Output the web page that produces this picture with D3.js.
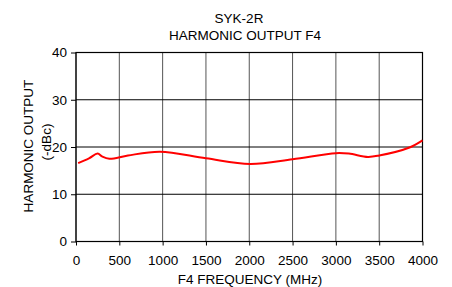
<!DOCTYPE html>
<html>
<head>
<meta charset="utf-8">
<script src="https://cdn.jsdelivr.net/npm/d3@7"></script>
<style>
body { margin: 0; background: #fff; }
text { font-family: "Liberation Sans", Arial, sans-serif; fill: #000; }
</style>
</head>
<body>
<script>
var freq = [25, 150, 250, 300, 385, 600, 970, 1500, 2010, 2500, 3000, 3150, 3370, 3500, 3850, 4000];
var output = [16.6, 17.6, 18.6, 18.0, 17.5, 18.2, 19.0, 17.6, 16.4, 17.4, 18.7, 18.6, 17.9, 18.2, 19.9, 21.4];
var xTicks = [0, 500, 1000, 1500, 2000, 2500, 3000, 3500, 4000];
var yTicks = [0, 10, 20, 30, 40];

var w = 452, h = 287;
var mLeft = 76, mRight = 422.5, mTop = 52.5, mBottom = 241.5;
var fs = "13.5px";

var svg = d3.select("body").append("svg")
  .attr("width", w)
  .attr("height", h);

var x = d3.scaleLinear().domain([0, 4000]).range([mLeft, mRight]);
var y = d3.scaleLinear().domain([0, 40]).range([mBottom, mTop]);

// vertical grid
svg.selectAll(".vgrid")
  .data(xTicks)
  .enter()
  .append("line")
  .attr("x1", function(d) { return x(d); })
  .attr("x2", function(d) { return x(d); })
  .attr("y1", mTop)
  .attr("y2", mBottom)
  .style("stroke", "#555")
  .style("stroke-width", 1);

// horizontal grid
svg.selectAll(".hgrid")
  .data(yTicks)
  .enter()
  .append("line")
  .attr("x1", mLeft)
  .attr("x2", mRight)
  .attr("y1", function(d) { return y(d); })
  .attr("y2", function(d) { return y(d); })
  .style("stroke", "#000")
  .style("stroke-width", 1);

svg.append("rect")
  .attr("x", mLeft).attr("y", mTop)
  .attr("width", mRight - mLeft).attr("height", mBottom - mTop)
  .style("fill", "none")
  .style("stroke", "#000")
  .style("stroke-width", 1.2);

var xAxis = svg.append("g")
  .attr("transform", "translate(0," + mBottom + ")")
  .call(d3.axisBottom(x).tickValues(xTicks).tickSize(4).tickPadding(10).tickFormat(d3.format("d")));
var yAxis = svg.append("g")
  .attr("transform", "translate(" + mLeft + ",0)")
  .call(d3.axisLeft(y).tickValues(yTicks).tickSize(5).tickPadding(4));

[xAxis, yAxis].forEach(function(a) {
  a.select(".domain").remove();
  a.selectAll("line").style("stroke", "#000");
  a.selectAll("text").style("font-size", fs).style("font-family", "Liberation Sans, Arial, sans-serif");
});

var line = d3.line()
  .x(function(d, i) { return x(freq[i]); })
  .y(function(d) { return y(d); })
  .curve(d3.curveCatmullRom.alpha(0.5));

svg.append("path")
  .datum(output)
  .attr("d", line)
  .style("fill", "none")
  .style("stroke", "#ff0000")
  .style("stroke-width", 2);

svg.append("text")
  .attr("x", 239).attr("y", 23)
  .attr("text-anchor", "middle")
  .style("font-size", fs)
  .text("SYK-2R");
svg.append("text")
  .attr("x", 245).attr("y", 39.5)
  .attr("text-anchor", "middle")
  .style("font-size", fs)
  .text("HARMONIC OUTPUT F4");

svg.append("text")
  .attr("x", 250).attr("y", 284)
  .attr("text-anchor", "middle")
  .style("font-size", fs)
  .text("F4 FREQUENCY (MHz)");

svg.append("text")
  .attr("transform", "translate(33,146) rotate(-90)")
  .attr("text-anchor", "middle")
  .style("font-size", fs)
  .text("HARMONIC OUTPUT");
svg.append("text")
  .attr("transform", "translate(51,142) rotate(-90)")
  .attr("text-anchor", "middle")
  .style("font-size", fs)
  .text("(-dBc)");
</script>
</body>
</html>
